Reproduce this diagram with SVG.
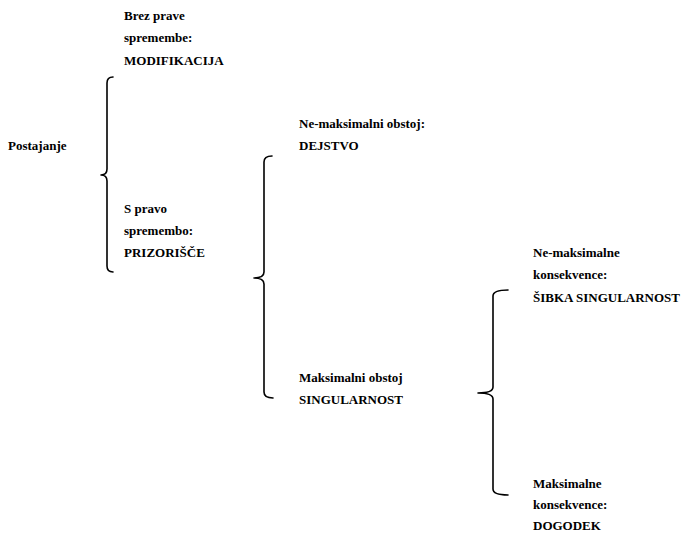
<svg xmlns="http://www.w3.org/2000/svg" width="681" height="534" viewBox="0 0 681 534">
<style>
text{font-family:"Liberation Serif","Times New Roman",serif;font-weight:bold;font-size:13px;fill:#000}
.br{fill:none;stroke:#000;stroke-width:1.6;stroke-linecap:round;stroke-linejoin:round}
</style>
<rect width="681" height="534" fill="#fff"/>
<g id="connectors">
<path class="br" d="M113,77 Q107,77 107,83 L107,169 Q107,175 101,175 Q107,175 107,181 L107,266 Q107,272 113,272"/>
<path class="br" d="M272,156 Q264,156 264,162 L264,272 Q264,278 254,278 Q264,278 264,284 L264,392 Q264,398 273,398"/>
<path class="br" d="M508,290 Q493,290 493,296 L493,387 Q493,393 478,393 Q493,393 493,399 L493,489 Q493,495 508,495"/>
</g>
<g id="postajanje"><text x="8" y="150">Postajanje</text></g>
<g id="modifikacija"><text x="124" y="20">Brez prave</text><text x="124" y="42">spremembe:</text><text x="124" y="65">MODIFIKACIJA</text></g>
<g id="prizorisce"><text x="124" y="213">S pravo</text><text x="124" y="235">spremembo:</text><text x="124" y="257">PRIZORIŠČE</text></g>
<g id="dejstvo"><text x="299" y="128">Ne-maksimalni obstoj:</text><text x="299" y="150">DEJSTVO</text></g>
<g id="singularnost"><text x="299" y="382">Maksimalni obstoj</text><text x="299" y="404">SINGULARNOST</text></g>
<g id="sibka"><text x="533" y="257">Ne-maksimalne</text><text x="533" y="279">konsekvence:</text><text x="533" y="302">ŠIBKA SINGULARNOST</text></g>
<g id="dogodek"><text x="533" y="488">Maksimalne</text><text x="533" y="509">konsekvence:</text><text x="533" y="530">DOGODEK</text></g>
</svg>
